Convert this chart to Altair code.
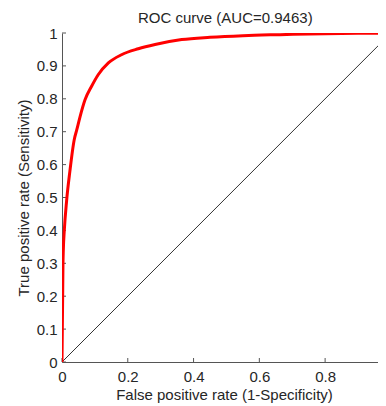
import altair as alt
import pandas as pd

# ROC curve
fpr = [0.0, 0.001, 0.002, 0.003, 0.004, 0.007, 0.014, 0.024, 0.037, 0.045, 0.055,
       0.070, 0.090, 0.110, 0.141, 0.181, 0.232, 0.283, 0.364, 0.45, 0.55, 0.663,
       0.80, 0.90, 1.0]
tpr = [0.0, 0.10, 0.20, 0.30, 0.34, 0.40, 0.49, 0.58, 0.675, 0.706, 0.746,
       0.797, 0.838, 0.873, 0.909, 0.934, 0.952, 0.965, 0.980, 0.987, 0.992, 0.995,
       0.998, 0.999, 1.0]
diag = [0.0, 1.0]
xticks = [0, 0.2, 0.4, 0.6, 0.8]
yticks = [0, 0.1, 0.2, 0.3, 0.4, 0.5, 0.6, 0.7, 0.8, 0.9, 1]

W, H = 316, 329
XMAX = 316 / 328.9
FONT = "Liberation Sans"
TXT = "#262626"
AX = "#555555"

curve_df = pd.DataFrame({"x": fpr, "y": tpr})
diag_df = pd.DataFrame({"x": diag, "y": diag})
xt_df = pd.DataFrame({"v": xticks})
yt_df = pd.DataFrame({"v": yticks})

xs = alt.Scale(domain=[0, XMAX], nice=False, zero=False)
ys = alt.Scale(domain=[0, 1], nice=False, zero=False)

xaxis = alt.Axis(values=xticks, format="~g", ticks=False, labelPadding=7, labelFlush=False,
                 labelOverlap=False, grid=False, domainColor=AX, labelFont=FONT,
                 labelFontSize=15, labelColor=TXT,
                 title="False positive rate (1-Specificity)", titleFont=FONT, titleFontSize=15,
                 titleFontWeight="normal", titleColor=TXT, titleBaseline="alphabetic", titleY=37,
                 titleX=162)
yaxis = alt.Axis(values=yticks, format="~g", ticks=False, labelPadding=5, labelFlush=False,
                 labelOverlap=False, grid=False, domainColor=AX, labelFont=FONT,
                 labelFontSize=15, labelColor=TXT,
                 title="True positive rate (Sensitivity)", titleFont=FONT, titleFontSize=15,
                 titleFontWeight="normal", titleColor=TXT, titleBaseline="alphabetic", titleX=-34)

diag_layer = alt.Chart(diag_df).mark_line(color="#333333", strokeWidth=1, clip=True).encode(
    x=alt.X("x:Q", scale=xs, axis=xaxis),
    y=alt.Y("y:Q", scale=ys, axis=yaxis),
)
xtick_layer = alt.Chart(xt_df).mark_rule(color=AX, strokeWidth=1).encode(
    x=alt.X("v:Q", scale=xs, axis=xaxis), y=alt.value(H), y2=alt.value(H - 4)
)
ytick_layer = alt.Chart(yt_df).mark_rule(color=AX, strokeWidth=1).encode(
    y=alt.Y("v:Q", scale=ys, axis=yaxis), x=alt.value(0), x2=alt.value(4)
)
curve_layer = alt.Chart(curve_df).mark_line(color="#ff0000", strokeWidth=3, clip=True,
                                            interpolate="monotone").encode(
    x=alt.X("x:Q", scale=xs, axis=xaxis), y=alt.Y("y:Q", scale=ys, axis=yaxis)
)

chart = alt.layer(diag_layer, xtick_layer, ytick_layer, curve_layer).properties(
    width=W, height=H,
    background="white",
    title=alt.TitleParams("ROC curve (AUC=0.9463)", font=FONT, fontSize=15, fontWeight="normal",
                          color=TXT, anchor="start", frame="group", offset=0, dx=76),
    autosize=alt.AutoSizeParams(type="none"),
    padding={"left": 54, "top": 25, "right": 0, "bottom": 44},
).configure_view(stroke=None)

chart.save("out.html", embed_options={"renderer": "svg", "actions": False})
